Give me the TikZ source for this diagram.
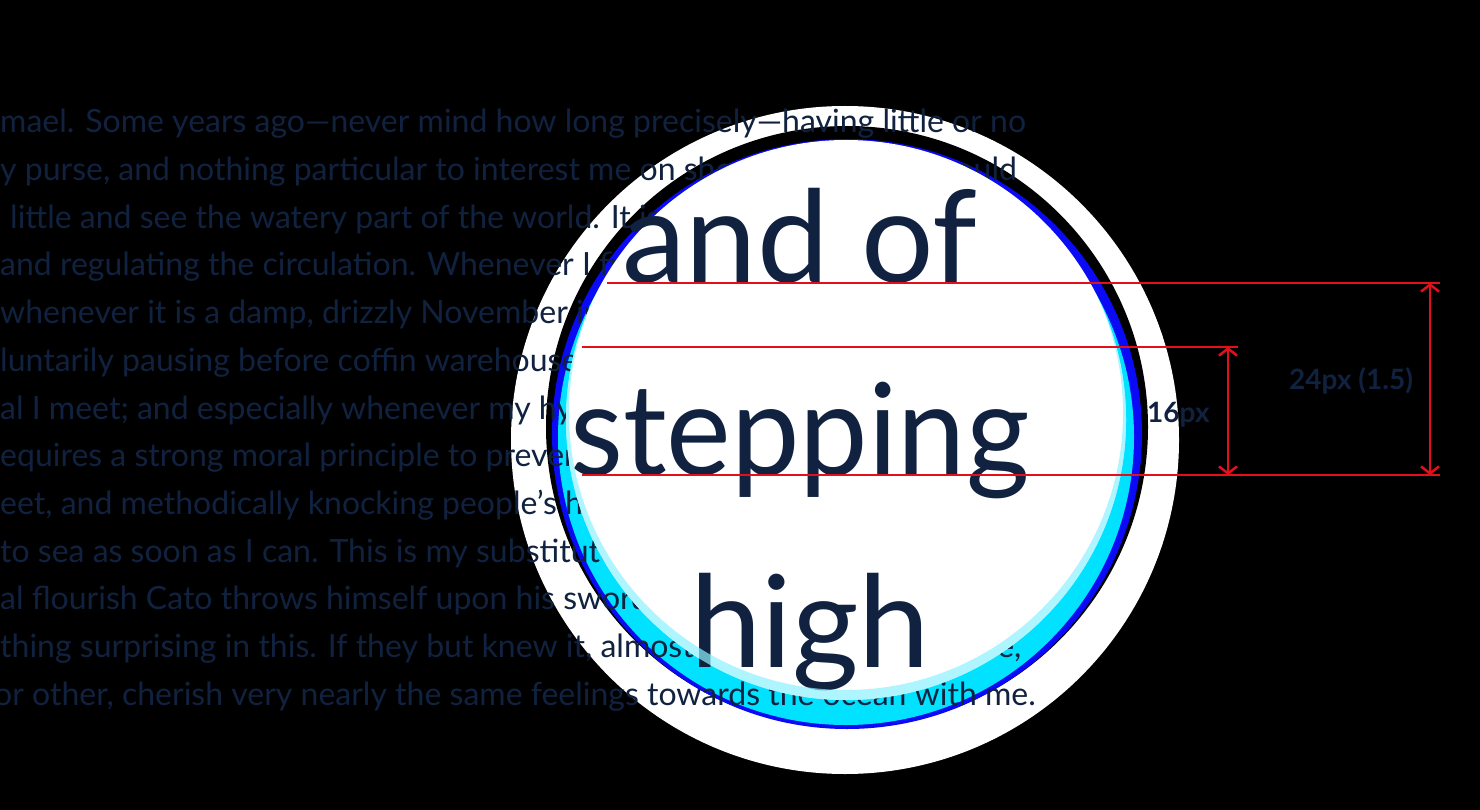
\documentclass[tikz,border=0pt]{standalone}
\usepackage{fontspec}
\setmainfont{Lato}
\usetikzlibrary{arrows.meta}
\definecolor{navy}{HTML}{10223F}
\definecolor{redline}{HTML}{E3101B}
\definecolor{ringblue}{HTML}{0A0AF5}
\definecolor{ringcyan}{HTML}{00E2FF}
\definecolor{glowcyan}{HTML}{8CF2FF}
\newcommand{\smalltxt}{\fontsize{32}{38}\selectfont}
\newcommand{\bigtxt}{\fontsize{128}{150}\selectfont}
\newcommand{\labeltxt}{\fontsize{28}{32}\selectfont\bfseries}
\begin{document}
\begin{tikzpicture}[x=1pt,y=-1pt,
  line/.style={anchor=base west, inner sep=0pt, font=\smalltxt, text=navy},
  bigword/.style={anchor=base west, inner sep=0pt, font=\bigtxt, text=navy},
  dimlabel/.style={anchor=base west, inner sep=0pt, font=\labeltxt, text=navy},
  redrule/.style={draw=redline, line width=2pt},
  dimarrow/.style={draw=redline, line width=2.5pt, {Straight Barb[length=7pt,width=18pt]}-{Straight Barb[length=7pt,width=18pt]}}]
\fill[black] (0,0) rectangle (1480,810);
\useasboundingbox (0,0) rectangle (1480,810);
% halo
\fill[white] (845,440) circle[radius=334pt];
% lens ring
\fill[black] (847,427) circle[radius=301pt];
\fill[ringblue] (847,434) circle[radius=295pt];
\fill[ringcyan] (846,437) circle[radius=288pt];
% paragraph lines
\node[line] (l1) at (0,133) {mael. Some years ago—never mind how long precisely—having little or no};
\node[line] (l2) at (0,180.7) {y purse, and nothing particular to interest me on shore, I thought I would};
\node[line] (l3) at (10,228.3) {little and see the watery part of the world. It is};
\node[line] (l4) at (0,276) {and regulating the circulation. Whenever I find};
\node[line] (l5) at (0,323.7) {whenever it is a damp, drizzly November in};
\node[line] (l6) at (0,371.3) {luntarily pausing before coffin warehouses,};
\node[line] (l7) at (0,419) {al I meet; and especially whenever my hypos};
\node[line] (l8) at (0,466.7) {equires a strong moral principle to prevent};
\node[line] (l9) at (0,514.3) {eet, and methodically knocking people’s hats};
\node[line] (l10) at (0,562) {to sea as soon as I can. This is my substitute};
\node[line] (l11) at (0,609.7) {al flourish Cato throws himself upon his sword;};
\node[line] (l12) at (0,657.3) {thing surprising in this. If they but knew it, almost all men in their degree,};
\node[line] (l13) at (-6,705) {or other, cherish very nearly the same feelings towards the ocean with me.};
% lens interior
\fill[white] (846,420) circle[radius=280pt];
% magnified words
\node[bigword] (w1) at (622,283) {and of};
\node[bigword] (w2) at (570,475) {\scalebox{0.955}[1]{stepping}};
\node[bigword] (w3) at (690,667) {high};
% inner glow
\begin{scope}
  \clip (846,420) circle[radius=280pt];
  \fill[glowcyan, opacity=0.7, even odd rule] (846,420) circle[radius=281pt] (846,413) circle[radius=277pt];
\end{scope}
% measuring rules
\coordinate (aL) at (607,283);
\coordinate (aR) at (1440,283);
\coordinate (bL) at (582,347);
\coordinate (bR) at (1238,347);
\coordinate (cL) at (582,475);
\coordinate (cR) at (1440,475);
\coordinate (s1t) at (1228,347);
\coordinate (s1b) at (1228,475);
\coordinate (s2t) at (1430,283);
\coordinate (s2b) at (1430,475);
\draw[redrule] (aL) -- (aR);
\draw[redrule] (bL) -- (bR);
\draw[redrule] (cL) -- (cR);
\draw[dimarrow] (s1t) -- (s1b);
\draw[dimarrow] (s2t) -- (s2b);
\node[dimlabel] (lab16) at (1147,422) {16px};
\node[dimlabel] (lab24) at (1289,389) {24px (1.5)};
\end{tikzpicture}
\end{document}
